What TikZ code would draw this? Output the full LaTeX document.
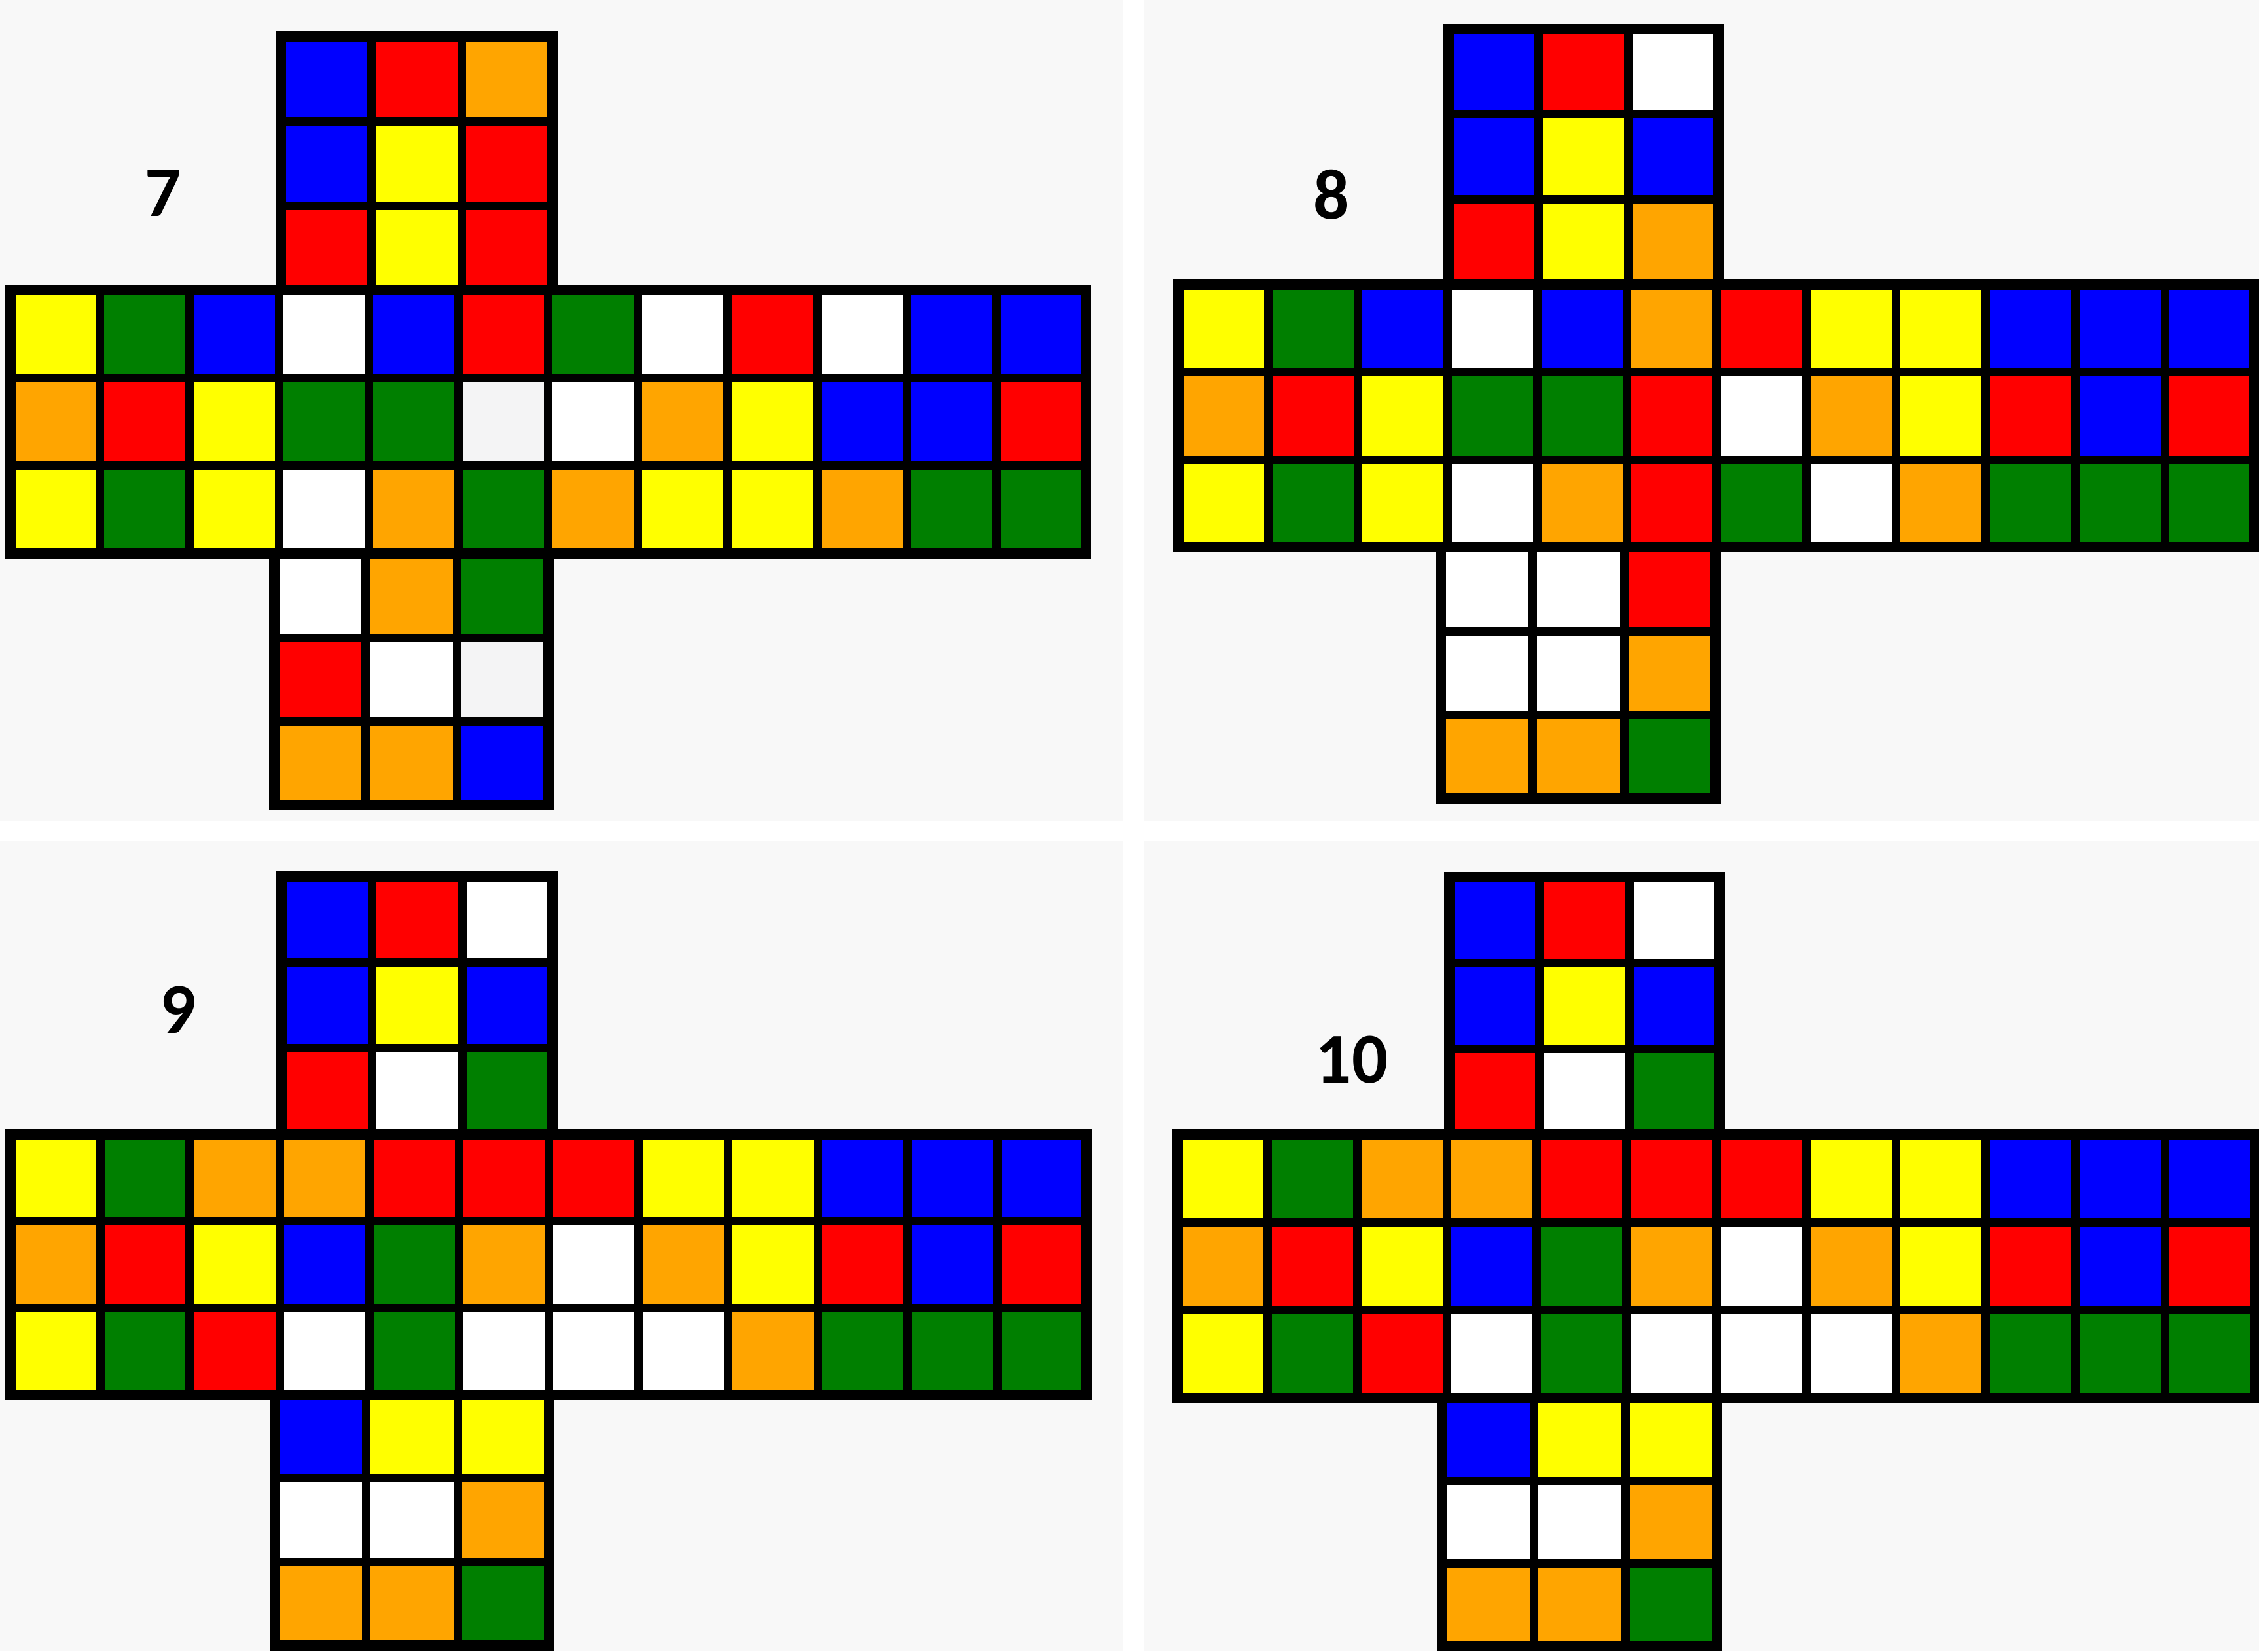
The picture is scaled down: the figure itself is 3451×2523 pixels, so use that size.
\documentclass[tikz,border=0pt]{standalone}
\usepackage{fontspec}
\setmainfont{Carlito}[BoldFont={Carlito Bold}]
\definecolor{rd}{HTML}{FF0000}
\definecolor{gn}{HTML}{007F00}
\definecolor{bl}{HTML}{0000FF}
\definecolor{yl}{HTML}{FFFF00}
\definecolor{og}{HTML}{FFA500}
\definecolor{wh}{HTML}{FFFFFF}
\definecolor{gy}{HTML}{F4F4F5}
\definecolor{panelbg}{HTML}{F8F8F8}
\tikzset{
  gridl/.style={line width=0.13cm, black},
  outl/.style={line width=0.16cm, black, line join=miter},
  lbl/.style={font=\bfseries\fontsize{31}{33}\selectfont, inner sep=0pt},
}
\newcommand\facegrid[6]{%
  \pgfmathsetmacro\fgw{(#3-#1)/#5}%
  \pgfmathsetmacro\fgh{(#4-#2)/3}%
  \pgfmathtruncatemacro\fgn{#5-1}%
  \foreach \c [count=\i from 0] in {#6}{%
    \pgfmathtruncatemacro\fgc{mod(\i,#5)}%
    \pgfmathtruncatemacro\fgr{div(\i,#5)}%
    \fill[\c] ({#1+\fgc*\fgw},{#2+\fgr*\fgh}) rectangle ++(\fgw,\fgh);
  }%
  \foreach \k in {1,...,\fgn}{%
    \draw[gridl] ({#1+\k*\fgw},#2) -- ({#1+\k*\fgw},#4);
  }%
  \foreach \k in {1,2}{%
    \draw[gridl] (#1,{#2+\k*\fgh}) -- (#3,{#2+\k*\fgh});
  }%
  \draw[outl] (#1,#2) rectangle (#3,#4);
}
\begin{document}
\begin{tikzpicture}[x=0.01cm,y=-0.01cm]
\useasboundingbox (0,0) rectangle (3451,2523);
\fill[white] (0,0) rectangle (3451,2523);
\fill[panelbg] (0,0) rectangle (1716,1255);
\fill[panelbg] (1747,0) rectangle (3451,1255);
\fill[panelbg] (0,1285) rectangle (1716,2523);
\fill[panelbg] (1747,1285) rectangle (3451,2523);

% ---- net 7 ----
\facegrid{16}{443}{1659}{846}{12}{yl,gn,bl,wh,bl,rd,gn,wh,rd,wh,bl,bl,
  og,rd,yl,gn,gn,gy,wh,og,yl,bl,bl,rd,
  yl,gn,yl,wh,og,gn,og,yl,yl,og,gn,gn}
\facegrid{429}{56}{844}{443}{3}{bl,rd,og,bl,yl,rd,rd,yl,rd}
\facegrid{419}{846}{838}{1230}{3}{wh,og,gn,rd,wh,gy,og,og,bl}
\node[lbl] (n7) at (249,295) {7};

% ---- net 8 ----
\facegrid{1800}{435}{3444}{836}{12}{yl,gn,bl,wh,bl,og,rd,yl,yl,bl,bl,bl,
  og,rd,yl,gn,gn,rd,wh,og,yl,rd,bl,rd,
  yl,gn,yl,wh,og,rd,gn,wh,og,gn,gn,gn}
\facegrid{2213}{44}{2625}{435}{3}{bl,rd,wh,bl,yl,bl,rd,yl,og}
\facegrid{2201}{836}{2621}{1220}{3}{wh,wh,rd,wh,wh,og,og,og,gn}
\node[lbl] (n8) at (2034,297) {8};

% ---- net 9 ----
\facegrid{16}{1733}{1660}{2131}{12}{yl,gn,og,og,rd,rd,rd,yl,yl,bl,bl,bl,
  og,rd,yl,bl,gn,og,wh,og,yl,rd,bl,rd,
  yl,gn,rd,wh,gn,wh,wh,wh,og,gn,gn,gn}
\facegrid{430}{1339}{844}{1733}{3}{bl,rd,wh,bl,yl,bl,rd,wh,gn}
\facegrid{420}{2131}{839}{2514}{3}{bl,yl,yl,wh,wh,og,og,og,gn}
\node[lbl] (n9) at (272,1543) {9};

% ---- net 10 ----
\facegrid{1799}{1733}{3445}{2136}{12}{yl,gn,og,og,rd,rd,rd,yl,yl,bl,bl,bl,
  og,rd,yl,bl,gn,og,wh,og,yl,rd,bl,rd,
  yl,gn,rd,wh,gn,wh,wh,wh,og,gn,gn,gn}
\facegrid{2214}{1340}{2627}{1733}{3}{bl,rd,wh,bl,yl,bl,rd,wh,gn}
\facegrid{2203}{2136}{2623}{2515}{3}{bl,yl,yl,wh,wh,og,og,og,gn}
\node[lbl] (n10) at (2065,1619) {10};
\end{tikzpicture}
\end{document}
